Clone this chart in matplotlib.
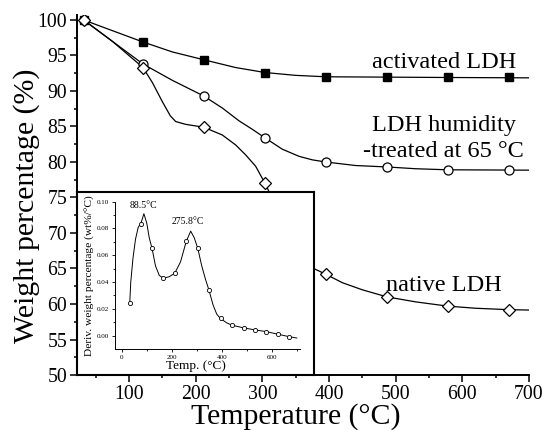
import matplotlib
matplotlib.use("Agg")
import matplotlib.pyplot as plt

plt.rcParams['font.family'] = ['Liberation Serif', 'DejaVu Serif']

# measured points (markers)
temp = [32, 121, 212, 304, 395, 487, 578, 670]
activated = [100, 96.9, 94.4, 92.6, 92.0, 92.0, 92.0, 91.9]
humidity = [100, 93.8, 89.3, 83.4, 80.0, 79.3, 78.9, 78.9]
native = [100, 93.3, 84.9, 77.0, 64.2, 61.0, 59.7, 59.2]

# fitted curves
act_curve_t = [32, 75, 121, 165, 212, 260, 304, 350, 395, 487, 578, 700]
act_curve_w = [100, 98.5, 96.9, 95.5, 94.4, 93.3, 92.6, 92.2, 92.0, 91.95, 91.9, 91.85]
hum_curve_t = [32, 75, 121, 165, 212, 240, 265, 285, 304, 330, 355, 375, 395, 440, 487, 530, 578, 700]
hum_curve_w = [100, 97.0, 93.8, 91.5, 89.3, 87.6, 85.8, 84.6, 83.4, 81.8, 80.8, 80.3, 80.0, 79.5, 79.3, 79.05, 78.9, 78.85]
nat_curve_t = [32, 75, 121, 135, 150, 162, 170, 185, 212, 240, 260, 275, 290, 304, 330, 355, 377, 395,
               420, 450, 487, 530, 578, 620, 670, 700]
nat_curve_w = [100, 97.0, 93.3, 91.2, 88.5, 86.5, 85.7, 85.3, 84.9, 83.8, 82.4, 81.0, 79.4, 77.0, 72.0, 68.0, 65.0, 64.2,
               63.0, 62.0, 61.0, 60.3, 59.7, 59.4, 59.2, 59.15]

# inset: derivative curve
d_temp = [32, 76, 121, 166, 212, 258, 304, 349, 395, 441, 487, 532, 578, 623, 670]
d_val = [0.0245, 0.0834, 0.0652, 0.0428, 0.0466, 0.0704, 0.0652, 0.0339, 0.0128, 0.0078, 0.0058, 0.0043, 0.0030, 0.0011, -0.0008]
d_curve_t = [32, 36, 45, 55, 66, 76, 88.5, 100, 110, 121, 135, 150, 166, 190, 212, 235, 250, 258, 275.8,
             290, 304, 320, 335, 349, 365, 380, 395, 420, 441, 487, 532, 578, 623, 670, 700]
d_curve_v = [0.0245, 0.040, 0.058, 0.072, 0.081, 0.0834, 0.091, 0.084, 0.073, 0.0652, 0.052, 0.045, 0.0428, 0.044,
             0.0466, 0.055, 0.065, 0.0704, 0.078, 0.073, 0.0652, 0.052, 0.042, 0.0339, 0.023, 0.016, 0.0128, 0.0095,
             0.0078, 0.0058, 0.0043, 0.0030, 0.0011, -0.0008, -0.0018]

fig = plt.figure(figsize=(5.43, 4.30), dpi=100)
ax = fig.add_axes([0.1413, 0.1279, 0.8329, 0.8372])

ax.plot(act_curve_t, act_curve_w, color='black', lw=0.9)
ax.plot(hum_curve_t, hum_curve_w, color='black', lw=0.9)
ax.plot(nat_curve_t, nat_curve_w, color='black', lw=0.9)
ax.plot(temp, activated, 's', ms=6, mfc='black', mec='black', ls='none')
ax.plot(temp, humidity, 'o', ms=6.5, mfc='white', mec='black', mew=0.9, ls='none')
ax.plot(temp, native, 'D', ms=6.5, mfc='white', mec='black', mew=0.9, ls='none')

ax.set_xlim(21.6, 700)
ax.set_ylim(50, 100.7)
ax.set_xticks([100, 200, 300, 400, 500, 600, 700])
ax.set_xticks([50, 150, 250, 350, 450, 550, 650], minor=True)
ax.set_yticks([50, 55, 60, 65, 70, 75, 80, 85, 90, 95, 100])
ax.set_yticks([52.5, 57.5, 62.5, 67.5, 72.5, 77.5, 82.5, 87.5, 92.5, 97.5], minor=True)
ax.spines['top'].set_visible(False)
ax.spines['right'].set_visible(False)
ax.spines['left'].set_linewidth(1.4)
ax.spines['bottom'].set_linewidth(1.4)
ax.tick_params(which='major', direction='out', length=5, width=1.1, labelsize=14.2, pad=2)
ax.tick_params(which='minor', direction='out', length=2.5, width=1.1)

ax.text(572, 93.2, 'activated LDH', fontsize=17.5, ha='center', va='baseline')
ax.text(572, 84.3, 'LDH humidity', fontsize=17.5, ha='center', va='baseline')
ax.text(572, 80.75, '-treated at 65 \u00b0C', fontsize=17.5, ha='center', va='baseline')
ax.text(572, 61.8, 'native LDH', fontsize=17.5, ha='center', va='baseline')

fig.text(296 / 543, 1 - 424 / 430, 'Temperature (\u00b0C)', fontsize=21.5, ha='center', va='baseline')
fig.text(27 / 543, 1 - 206 / 430, 'Weight percentage (%)', fontsize=21.5, ha='center', va='center', rotation=90)

# inset frame
box = fig.add_axes([0.1413, 0.1279, 0.437, 0.4256])
box.set_xticks([])
box.set_yticks([])
for s in box.spines.values():
    s.set_linewidth(1.5)

ins = fig.add_axes([0.2118, 0.1877, 0.3407, 0.3433])
ins.patch.set_alpha(0)
ins.plot(d_curve_t, d_curve_v, color='black', lw=0.7)
ins.plot(d_temp, d_val, 'o', ms=3, mfc='white', mec='black', mew=0.6, ls='none')
ins.set_xlim(-27, 713)
ins.set_ylim(-0.0102, 0.10)
ins.set_xticks([0, 200, 400, 600])
ins.set_xticks([100, 300, 500, 700], minor=True)
ins.set_yticks([0.00, 0.02, 0.04, 0.06, 0.08, 0.10])
ins.set_yticklabels(['0.00', '0.02', '0.04', '0.06', '0.08', '0.10'])
ins.set_yticks([0.01, 0.03, 0.05, 0.07, 0.09], minor=True)
ins.spines['top'].set_visible(False)
ins.spines['right'].set_visible(False)
ins.spines['left'].set_linewidth(0.7)
ins.spines['bottom'].set_linewidth(0.7)
ins.tick_params(which='major', direction='out', length=2.5, width=0.6, labelsize=5, pad=1.5)
ins.tick_params(which='minor', direction='out', length=1.2, width=0.6)
ins.set_xlabel('Temp. (\u00b0C)', fontsize=9.5)
ins.xaxis.set_label_coords(0.44, -0.075)
ins.set_ylabel('Deriv. weight percentage (wt%/\u00b0C)', fontsize=8.2, labelpad=1.5)
ins.text(88.5, 0.0975, '88.5\u00b0C', fontsize=7, ha='center', va='center')
ins.text(266, 0.085, '275.8\u00b0C', fontsize=7, ha='center', va='center')

fig.savefig('out.png', dpi=100)
